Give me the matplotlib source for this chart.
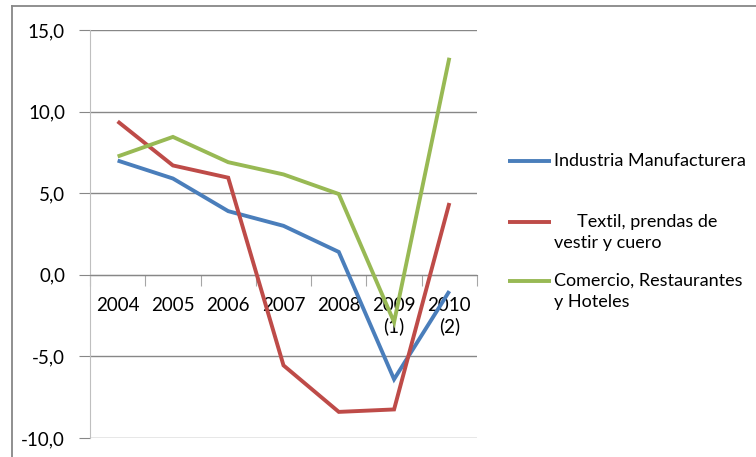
import matplotlib
matplotlib.use('Agg')
import numpy as np
import matplotlib.pyplot as plt
from matplotlib.lines import Line2D

plt.rcParams['font.family'] = ['Lato', 'DejaVu Sans']

years = ['2004', '2005', '2006', '2007', '2008', '2009\n(1)', '2010\n(2)']
industria = [7.0, 5.9, 3.9, 3.0, 1.4, -6.4, -1.0]
textil = [9.4, 6.7, 5.95, -5.55, -8.4, -8.25, 4.4]
comercio = [7.25, 8.45, 6.9, 6.15, 4.95, -2.9, 13.3]

names = ['Industria Manufacturera', '     Textil, prendas de\nvestir y cuero',
         'Comercio, Restaurantes\ny Hoteles']
colors = ['#4A7EBB', '#BE4B48', '#98B954']
series = [industria, textil, comercio]

W, H = 756, 457
fig = plt.figure(figsize=(W / 100, H / 100), dpi=100)
ax = fig.add_axes([90 / W, 1 - 438 / H, (477 - 90) / W, (438 - 30) / H])

x = np.arange(len(years))
for vals, c in zip(series, colors):
    ax.plot(x, vals, color=c, lw=2.8, solid_capstyle='butt', solid_joinstyle='miter', zorder=3)

ax.set_xlim(-0.5, len(years) - 0.5)
ax.set_ylim(-10, 15)
yt = np.arange(-10, 16, 5)
ax.set_yticks(yt)
ax.set_yticklabels([('%.1f' % v).replace('.', ',') for v in yt])
ax.yaxis.grid(True, color='#878787', lw=1)
ax.set_axisbelow(True)

# category ticks between labels, labels at centers
ax.set_xticks(np.arange(-0.5, len(years), 1))
ax.set_xticklabels([])
ax.set_xticks(x, minor=True)
ax.set_xticklabels(years, minor=True, linespacing=1.25)
ax.tick_params(axis='x', which='major', length=8, color='#A6A6A6', direction='out')
ax.tick_params(axis='x', which='minor', length=0, pad=16, labelsize=13.5)
ax.tick_params(axis='y', length=8, color='#878787', labelsize=13.5, pad=10)

for s in ['top', 'right']:
    ax.spines[s].set_visible(False)
ax.spines['bottom'].set_position(('data', 0))
ax.spines['bottom'].set_color('#878787')
ax.spines['left'].set_color('#BFBFBF')

# legend
ly = [161, 222, 281]
for y, c, n in zip(ly, colors, names):
    fy = 1 - y / H
    fig.add_artist(Line2D([508 / W, 551 / W], [fy, fy], color=c, lw=2.8, solid_capstyle='butt'))
    fig.text(554 / W, fy + 8 / H, n, fontsize=13, va='top', ha='left', linespacing=1.4)

# outer frame
fig.add_artist(Line2D([12 / W, 12 / W], [0, 1 - 5.5 / H], color='#878787', lw=1.3))
fig.add_artist(Line2D([12 / W, 1], [1 - 5.5 / H, 1 - 5.5 / H], color='#878787', lw=1.3))

fig.savefig('out.png', dpi=100)
